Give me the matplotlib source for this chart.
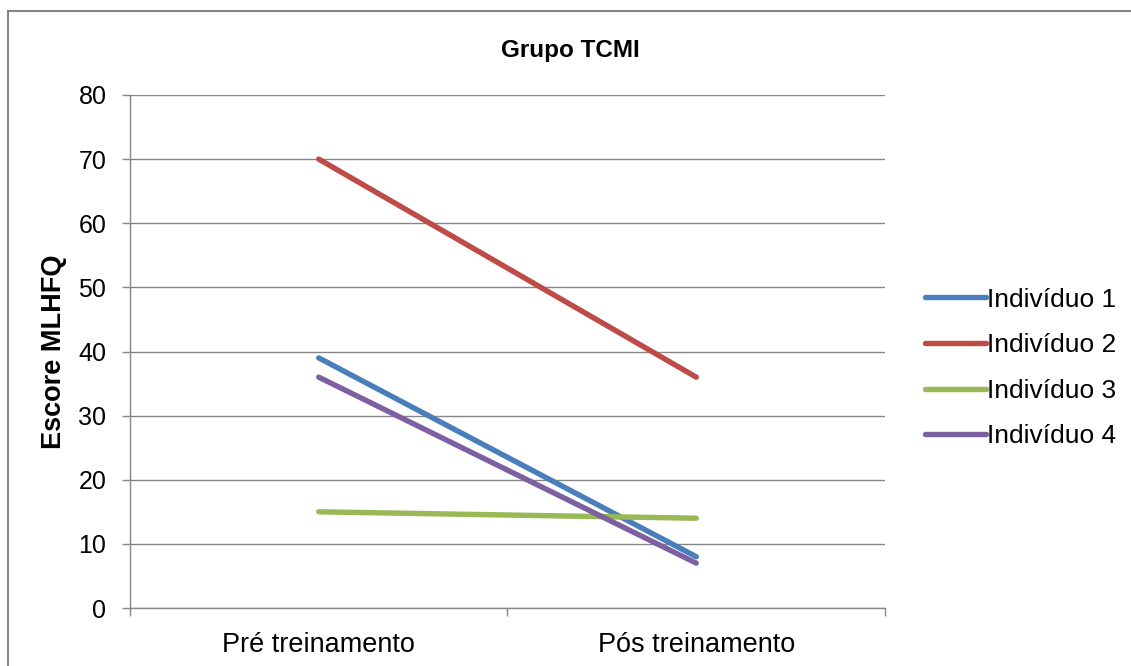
import matplotlib.pyplot as plt
from matplotlib.lines import Line2D

plt.rcParams['font.family'] = ['Liberation Sans', 'DejaVu Sans']

categories = ["Pré treinamento", "Pós treinamento"]
ind1 = [39, 8]
ind2 = [70, 36]
ind3 = [15, 14]
ind4 = [36, 7]
names = ["Indivíduo 1", "Indivíduo 2", "Indivíduo 3", "Indivíduo 4"]
colors = ["#4a7ebb", "#be4b48", "#98b954", "#7d60a0"]
yticks = [0, 10, 20, 30, 40, 50, 60, 70, 80]

W, H = 1131, 666
fig = plt.figure(figsize=(W / 100, H / 100), dpi=100)
ax = fig.add_axes([130 / W, 1 - 608 / H, (885 - 130) / W, (608 - 95) / H])

x = [0.5, 1.5]
for vals, name, c in zip([ind1, ind2, ind3, ind4], names, colors):
    ax.plot(x, vals, color=c, lw=3.9, solid_capstyle='round', label=name)

ax.set_xlim(0, 2)
ax.set_ylim(0, 80)
ax.set_yticks(yticks)
ax.set_xticks(x)
ax.set_xticklabels(categories, fontsize=19.5)
ax.set_xticks([0, 1, 2], minor=True)
ax.tick_params(axis='x', which='major', length=0, pad=17)
ax.tick_params(axis='x', which='minor', length=6, color='#868686', width=1)
ax.tick_params(axis='y', length=6, color='#868686', width=1, labelsize=18, pad=11)
ax.grid(axis='y', color='#868686', lw=1)
ax.set_axisbelow(True)
for s in ['top', 'right']:
    ax.spines[s].set_visible(False)
for s in ['left', 'bottom']:
    ax.spines[s].set_color('#868686')
    ax.spines[s].set_linewidth(1)

ax.set_ylabel("Escore MLHFQ", fontsize=19.5, fontweight='bold', labelpad=8)
fig.text(570 / W, 1 - 50 / H, "Grupo TCMI", ha='center', va='center',
         fontsize=17.5, fontweight='bold')

leg = ax.legend(loc='center left', bbox_to_anchor=(925 / W, 1 - 368 / H),
                bbox_transform=fig.transFigure, frameon=False, fontsize=19,
                handlelength=2.3, handletextpad=0.05, labelspacing=0.82,
                borderaxespad=0, borderpad=0)

# chart frame
fig.add_artist(Line2D([8 / W, 1], [1 - 11 / H, 1 - 11 / H], color='#868686', lw=1.5,
                      transform=fig.transFigure))
fig.add_artist(Line2D([8 / W, 8 / W], [1 - 11 / H, 0], color='#868686', lw=1.5,
                      transform=fig.transFigure))

fig.savefig("out.png", dpi=100, facecolor='white')
